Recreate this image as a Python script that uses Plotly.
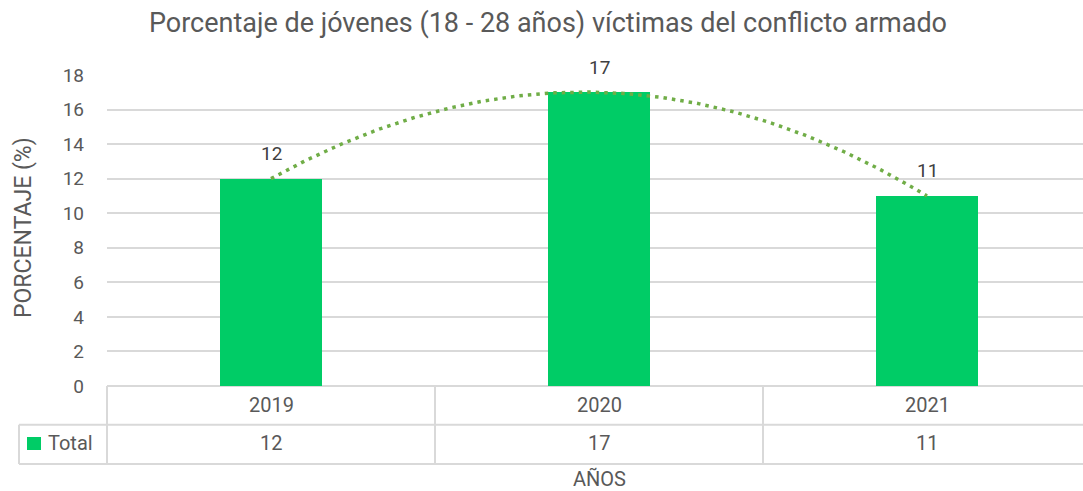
import numpy as np
import plotly.graph_objects as go

# ---- data ----
years = ["2019", "2020", "2021"]
values = [12, 17, 11]
series_name = "Total"
title_text = "Porcentaje de jóvenes (18 - 28 años) víctimas del conflicto armado"
y_title = "PORCENTAJE (%)"
x_title = "AÑOS"
y_ticks = [0, 2, 4, 6, 8, 10, 12, 14, 16, 18]

# ---- style ----
FONT = "Roboto"
TXT = "#595959"
GRID = "#D9D9D9"
BAR = "#00CC66"
TREND = "#70AD47"

W, H = 1083, 491
ML, MR, MT, MB = 107, 0, 75, 105
PW, PH = W - ML - MR, H - MT - MB


def py(px):  # pixel y -> paper y
    return (H - MB - px) / PH


def pxx(px):  # pixel x -> paper x
    return (px - ML) / PW


idx = list(range(len(years)))

fig = go.Figure()
fig.add_trace(go.Bar(
    x=idx, y=values, width=0.313, marker=dict(color=BAR, line=dict(width=0)),
    name=series_name, showlegend=False,
))

# polynomial (order 2) trendline fitted to the data
coef = np.polyfit(idx, values, 2)
xs = np.linspace(idx[0], idx[-1], 200)
fig.add_trace(go.Scatter(
    x=xs, y=np.polyval(coef, xs), mode="lines",
    line=dict(color=TREND, width=3.5, dash="3.5px,5px"),
    showlegend=False, hoverinfo="skip",
))

ncat = len(years)
fig.update_xaxes(
    range=[-0.5, -0.5 + ncat - (1091 - 1083) / 328],
    showticklabels=False, showgrid=False, zeroline=False, showline=False,
)
fig.update_yaxes(
    range=[0, 18], tickvals=y_ticks, showgrid=True, gridcolor=GRID, gridwidth=1.5,
    zeroline=True, zerolinecolor=GRID, zerolinewidth=2,
    tickfont=dict(family=FONT, size=19, color=TXT), ticklabelstandoff=22,
)

shapes = []
line = dict(color=GRID, width=2)
# horizontal table lines
for yy in [424.7, 464]:
    shapes.append(dict(type="line", xref="paper", yref="paper", x0=pxx(19), x1=1.0,
                       y0=py(yy), y1=py(yy), line=line))
# left border of legend cell
shapes.append(dict(type="line", xref="paper", yref="paper", x0=pxx(19), x1=pxx(19),
                   y0=py(424.7), y1=py(464), line=line))
# left border of table
shapes.append(dict(type="line", xref="paper", yref="paper", x0=0, x1=0,
                   y0=0, y1=py(464), line=line))
# category dividers
for i in idx[:-1]:
    shapes.append(dict(type="line", xref="x", yref="paper", x0=i + 0.5, x1=i + 0.5,
                       y0=0, y1=py(464), line=line))
# legend key
shapes.append(dict(type="rect", xref="paper", yref="paper", x0=pxx(27), x1=pxx(41),
                   y0=py(450), y1=py(437), fillcolor=BAR, line=dict(width=0)))

annotations = []
for i, (yr, v) in enumerate(zip(years, values)):
    # data label above bar
    annotations.append(dict(x=i, y=v, xref="x", yref="y", text=str(v), yanchor="middle",
                            yshift=25, showarrow=False,
                            font=dict(family=FONT, size=19, color="#404040")))
    annotations.append(dict(x=i, y=py(405), xref="x", yref="paper", text=yr, yanchor="middle",
                            showarrow=False, font=dict(family=FONT, size=20, color=TXT)))
    annotations.append(dict(x=i, y=py(443), xref="x", yref="paper", text=str(v), yanchor="middle",
                            showarrow=False, font=dict(family=FONT, size=20, color=TXT)))
annotations.append(dict(x=pxx(46), y=py(443), xref="paper", yref="paper", text=series_name,
                        xanchor="left", yanchor="middle", showarrow=False,
                        font=dict(family=FONT, size=20, color=TXT)))
annotations.append(dict(x=pxx(599), y=py(479), xref="paper", yref="paper", text=x_title,
                        xanchor="center", yanchor="middle", showarrow=False,
                        font=dict(family=FONT, size=20, color=TXT)))
annotations.append(dict(x=pxx(23), y=py(228), xref="paper", yref="paper", text=y_title,
                        textangle=-90, xanchor="center", yanchor="middle", showarrow=False,
                        font=dict(family=FONT, size=23, color=TXT)))

fig.update_layout(
    width=W, height=H, margin=dict(l=ML, r=MR, t=MT, b=MB),
    paper_bgcolor="white", plot_bgcolor="white",
    title=dict(text=title_text, x=0.506, xanchor="center", y=1 - 23 / H, yanchor="middle",
               font=dict(family=FONT, size=27, color=TXT)),
    shapes=shapes, annotations=annotations, bargap=0,
)

fig.write_html("out.html", config={"displayModeBar": False},
               post_script="document.body.style.margin='0';")
